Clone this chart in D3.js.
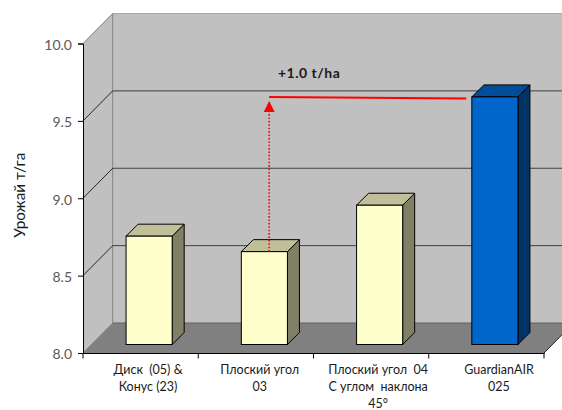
<!DOCTYPE html>
<html>
<head>
<meta charset="utf-8">
<script src="https://cdn.jsdelivr.net/npm/d3@7"></script>
<style>
  html, body { margin: 0; padding: 0; background: #fff; }
  svg { display: block; }
  text { font-family: Lato, "Open Sans", sans-serif; white-space: pre; }
</style>
</head>
<body>
<svg id="chart" width="562" height="410"></svg>
<script>
const categories = ["disk", "flat03", "flat04", "air"];
const categoryLines = [
  ["Диск  (05) &", "Конус (23)"],
  ["Плоский угол", "03"],
  ["Плоский угол  04", "С углом  наклона", "45°"],
  ["GuardianAIR", "025"]
];
const yields = [8.7, 8.6, 8.9, 9.6];
const highlighted = ["air"];
const yTicks = [8.0, 8.5, 9.0, 9.5, 10.0];
const gridTicks = [8.5, 9.0, 9.5];
const yAxisLabel = "Урожай т/га";
const gainLabel = "+1.0 t/ha";
const gainLine = [9.6, 9.59];

const svg = d3.select("#chart");
const x = d3.scaleBand().domain(categories).range([83, 544]).paddingInner(0.6).paddingOuter(0.3);
const y = d3.scaleLinear().domain([8, 10]).range([353, 43.5]);

// chart box depth, and how far the bars sit back from the front edge
const depthX = 29.7, depthY = 30;
const barShift = 8.5, barDepth = 12;
const barTop = v => y(v) - barShift;
const barBase = y(8) - barShift;
// the labels were hand placed text boxes, they don't sit on the band centres
const labelNudge = [7.4, 3.8, 7, 12.6];

// back wall, goes off the right side of the window like in the original
svg.append("rect")
  .attr("x", x.range()[0] + depthX).attr("y", y(10) - depthY)
  .attr("width", 562 - x.range()[0] - depthX).attr("height", y(8) - y(10))
  .attr("fill", "#c0c0c0");

// side wall
svg.append("path")
  .attr("d", d3.line()([
    [x.range()[0], y(8)], [x.range()[0], y(10)],
    [x.range()[0] + depthX, y(10) - depthY], [x.range()[0] + depthX, y(8) - depthY]
  ]) + "Z")
  .attr("fill", "#c0c0c0");

// floor
svg.append("path")
  .attr("d", d3.line()([
    [x.range()[0], y(8)], [x.range()[1], y(8)],
    [x.range()[1] + depthX, y(8) - depthY], [x.range()[0] + depthX, y(8) - depthY]
  ]) + "Z")
  .attr("fill", "#808080");

// wall frame
svg.append("line")
  .attr("x1", x.range()[0] + depthX).attr("x2", x.range()[0] + depthX)
  .attr("y1", y(10) - depthY).attr("y2", y(8) - depthY)
  .attr("stroke", "#808080").attr("stroke-width", 1);
svg.append("line")
  .attr("x1", x.range()[0] + depthX).attr("x2", 562)
  .attr("y1", y(10) - depthY).attr("y2", y(10) - depthY)
  .attr("stroke", "#a8a8a8").attr("stroke-width", 1);
svg.append("line")
  .attr("x1", x.range()[0]).attr("x2", x.range()[0] + depthX)
  .attr("y1", y(10)).attr("y2", y(10) - depthY)
  .attr("stroke", "#808080").attr("stroke-width", 1);
svg.append("line")
  .attr("x1", x.range()[0]).attr("x2", x.range()[0] + depthX)
  .attr("y1", y(8)).attr("y2", y(8) - depthY)
  .attr("stroke", "#808080").attr("stroke-width", 1);
svg.append("line")
  .attr("x1", x.range()[0] + depthX).attr("x2", 562)
  .attr("y1", y(8) - depthY).attr("y2", y(8) - depthY)
  .attr("stroke", "#606060").attr("stroke-width", 1);
svg.append("line")
  .attr("x1", x.range()[1]).attr("x2", x.range()[1] + depthX)
  .attr("y1", y(8)).attr("y2", y(8) - depthY)
  .attr("stroke", "#000").attr("stroke-width", 0.8);

// gridlines
const grid = svg.append("g");
grid.selectAll(".back").data(gridTicks).join("line")
  .attr("x1", x.range()[0] + depthX).attr("x2", 562)
  .attr("y1", d => y(d) - depthY).attr("y2", d => y(d) - depthY)
  .attr("stroke", "#404040").attr("stroke-width", 1);
grid.selectAll(".side").data(gridTicks).join("line")
  .attr("x1", x.range()[0]).attr("x2", x.range()[0] + depthX)
  .attr("y1", d => y(d)).attr("y2", d => y(d) - depthY)
  .attr("stroke", "#000").attr("stroke-width", 0.8);

// bars
const bars = svg.append("g").selectAll("g").data(categories).join("g");
const isAir = d => highlighted.includes(d);
const valueOf = d => yields[categories.indexOf(d)];

bars.append("path")
  .attr("d", d => {
    const x1 = x(d) + barShift + x.bandwidth();
    return d3.line()([[x1, barTop(valueOf(d))], [x1 + barDepth, barTop(valueOf(d)) - barDepth],
      [x1 + barDepth, barBase - barDepth], [x1, barBase]]) + "Z";
  })
  .attr("fill", d => isAir(d) ? "#003366" : "#808066")
  .attr("stroke", "#000").attr("stroke-width", 1);
bars.append("path")
  .attr("d", d => {
    const x0 = x(d) + barShift, t = barTop(valueOf(d));
    return d3.line()([[x0, t], [x0 + barDepth, t - barDepth],
      [x0 + x.bandwidth() + barDepth, t - barDepth], [x0 + x.bandwidth(), t]]) + "Z";
  })
  .attr("fill", d => isAir(d) ? "#004d99" : "#bfbf99")
  .attr("stroke", "#000").attr("stroke-width", 1);
bars.append("rect")
  .attr("x", d => x(d) + barShift)
  .attr("y", d => barTop(valueOf(d)))
  .attr("width", x.bandwidth())
  .attr("height", d => barBase - barTop(valueOf(d)))
  .attr("fill", d => isAir(d) ? "#0066cc" : "#ffffcc")
  .attr("stroke", "#000").attr("stroke-width", 1);

// axes
const yAxis = svg.append("g")
  .attr("transform", `translate(${x.range()[0]},0)`)
  .call(d3.axisLeft(y).tickValues(yTicks).tickSize(5).tickPadding(6).tickFormat(d3.format(".1f")));
yAxis.select(".domain").attr("stroke", "#000").attr("stroke-width", 1);
yAxis.selectAll("text").attr("font-size", 14).attr("dy", "0.42em").attr("fill", "#595959")
  .style("font-family", "Lato, 'Open Sans', sans-serif");

const xAxis = svg.append("g")
  .attr("transform", `translate(0,${y(8)})`)
  .call(d3.axisBottom(x).tickValues([]).tickSizeOuter(0));
xAxis.select(".domain").attr("stroke", "#000").attr("stroke-width", 1);
const step = x.step();
xAxis.selectAll(".tick-mark").data(d3.range(categories.length + 1)).join("line")
  .attr("x1", i => x.range()[0] + i * step).attr("x2", i => x.range()[0] + i * step)
  .attr("y1", 0).attr("y2", 5.5).attr("stroke", "#000");

// category labels, one text line per row
const labels = svg.append("g");
categories.forEach((c, i) => {
  labels.selectAll(null).data(categoryLines[i]).join("text")
    .attr("x", x(c) + x.bandwidth() / 2 + labelNudge[i])
    .attr("y", (d, j) => y(8) + 21 + j * 17)
    .attr("text-anchor", "middle")
    .attr("font-size", 12.5)
    .attr("fill", "#1a1a1a")
    .text(d => d);
});

svg.append("text")
  .attr("transform", `translate(25,${y(9) - 3}) rotate(-90)`)
  .attr("text-anchor", "middle")
  .attr("font-size", 15.3)
  .attr("fill", "#1a1a1a")
  .text(yAxisLabel);

// annotation
const arrowX = x(categories[1]) + barShift + x.bandwidth() / 2 + 4.8;
svg.append("line")
  .attr("x1", arrowX).attr("x2", arrowX)
  .attr("y1", barTop(yields[1])).attr("y2", barTop(gainLine[0]) + 14)
  .attr("stroke", "#ff0000").attr("stroke-width", 1.6).attr("stroke-dasharray", "1.6 1.8");
svg.append("path")
  .attr("d", d3.line()([
    [arrowX, barTop(gainLine[0]) + 4], [arrowX - 5.5, barTop(gainLine[0]) + 15], [arrowX + 5.5, barTop(gainLine[0]) + 15]
  ]) + "Z")
  .attr("fill", "#ff0000");
svg.append("line")
  .attr("x1", arrowX).attr("x2", x(categories[3]) + barShift - 5.5)
  .attr("y1", barTop(gainLine[0])).attr("y2", barTop(gainLine[1]))
  .attr("stroke", "#ff0000").attr("stroke-width", 2);
svg.append("text")
  .attr("x", 278).attr("y", 77.5)
  .attr("font-size", 14).attr("font-weight", 700).attr("letter-spacing", 0.5).attr("fill", "#1a1a1a")
  .text(gainLabel);
</script>
</body>
</html>
